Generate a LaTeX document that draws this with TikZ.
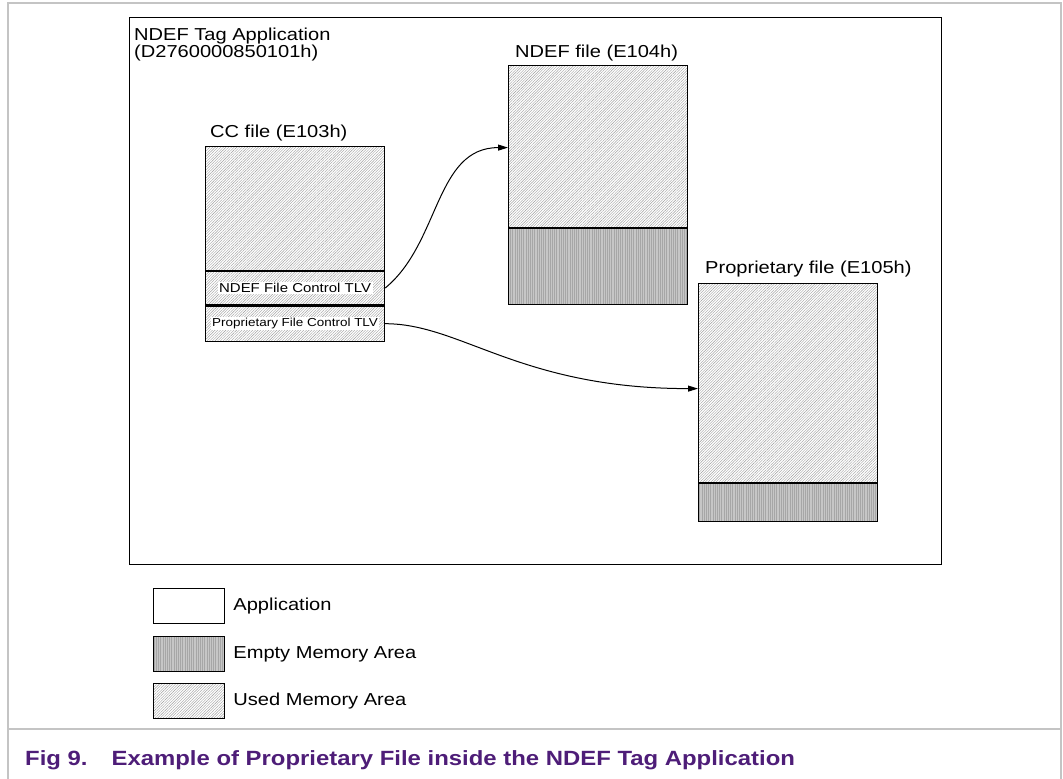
\documentclass[tikz,border=0pt]{standalone}
\usepackage{fontspec}
\setmainfont{Liberation Sans}[FakeStretch=1.16]
\usetikzlibrary{arrows.meta,positioning,calc,patterns.meta}
\definecolor{framegray}{HTML}{C4C4C4}
\definecolor{emptygray}{HTML}{C6C6C6}
\definecolor{emptyline}{HTML}{A6A6A6}
\definecolor{usedline}{HTML}{9C9C9C}
\definecolor{figpurple}{HTML}{4E1D78}

\tikzset{
  filebox/.style={inner sep=0pt,anchor=north west,minimum width=179pt},
  usedarea/.style={draw,line width=1.2pt,
    pattern={Lines[angle=45,distance=1.9pt,line width=0.4pt]},pattern color=usedline},
  emptyarea/.style={draw,line width=1.2pt,preaction={fill=emptygray},
    pattern={Lines[angle=90,distance=2.2pt,line width=0.35pt]},pattern color=emptyline},
  tlvtext/.style={fill=white,inner xsep=1.5pt,inner ysep=1pt},
  heading/.style={font=\fontsize{17.3}{16.5}\selectfont,inner sep=0pt,anchor=base west},
  legendbox/.style={inner sep=0pt,anchor=north west,minimum width=71pt,minimum height=35pt},
  legtext/.style={font=\fontsize{17.3}{20}\selectfont,inner sep=0pt,anchor=west},
  link/.style={line width=1pt,-{Triangle[length=10pt,width=6pt]}}
}

\begin{document}
\begin{tikzpicture}[x=1pt,y=-1pt]
  \useasboundingbox (0,0) rectangle (1063,779);
  % page frame
  \draw[framegray,line width=1.5pt] (8,779) -- (8,3) -- (1061,3) -- (1061,779);
  \draw[framegray,line width=1.5pt] (8,729) -- (1061,729);

  % application
  \node[draw,line width=1.3pt,inner sep=0pt,anchor=north west,
    minimum width=812pt,minimum height=547pt] (tagapp) at (129,17) {};
  \node[heading,align=left] (tagapptitle) at (134,57)
    {NDEF Tag Application\\(D2760000850101h)};

  % CC file
  \node[filebox,usedarea,minimum height=124pt] (ccused) at (205,146) {};
  \node[filebox,usedarea,minimum height=34pt] (ndeftlv) at (ccused.south west) {};
  \node[filebox,usedarea,minimum height=35pt] (proptlv) at (ndeftlv.south west) {};
  \node[tlvtext,font=\fontsize{12.9}{14}\selectfont] (ndeftlvtext) at (ndeftlv) {NDEF File Control TLV};
  \node[tlvtext,font=\fontsize{11.6}{13}\selectfont] (proptlvtext) at (proptlv) {Proprietary File Control TLV};
  \node[heading] (cctitle) at ($(ccused.north west)+(5,-9)$) {CC file (E103h)};

  % NDEF file
  \node[filebox,usedarea,minimum height=162pt] (ndefused) at (508,65) {};
  \node[filebox,emptyarea,minimum height=76pt] (ndefempty) at (ndefused.south west) {};
  \node[heading] (ndeftitle) at ($(ndefused.north west)+(7,-8)$) {NDEF file (E104h)};

  % proprietary file
  \node[filebox,usedarea,minimum height=199pt] (propused) at (698,283) {};
  \node[filebox,emptyarea,minimum height=38pt] (propempty) at (propused.south west) {};
  \node[heading] (proptitle) at ($(propused.north west)+(7,-10)$) {Proprietary file (E105h)};

  % links
  \draw[link] (ndeftlv.east) .. controls +(55,-45) and +(-73,0) .. ($(ndefused.west)+(0,1)$);
  \draw[link] (proptlv.east) .. controls +(76,0) and +(-178,0) .. ($(propused.west)+(0,5.5)$);

  % legend
  \node[legendbox,draw,line width=1.2pt] (legapp) at (153,588) {};
  \node[legendbox,emptyarea] (legempty) at (153,636) {};
  \node[legendbox,usedarea] (legused) at (153,683) {};
  \node[legtext,right=8pt of legapp] (legapptext) {Application};
  \node[legtext,right=8pt of legempty] (legemptytext) {Empty Memory Area};
  \node[legtext,right=8pt of legused] (legusedtext) {Used Memory Area};

  % caption
  \node[font=\fontsize{20.6}{24}\selectfont\bfseries,text=figpurple,inner sep=0pt,anchor=base west]
    (figcaption) at (25,765) {Fig 9.\hspace{24pt}Example of Proprietary File inside the NDEF Tag Application};
\end{tikzpicture}
\end{document}
